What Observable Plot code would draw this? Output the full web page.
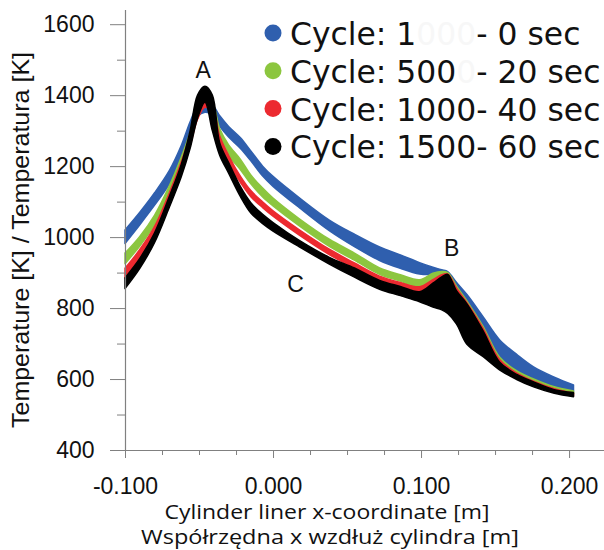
<!DOCTYPE html>
<html><head><meta charset="utf-8">
<script src="https://cdn.jsdelivr.net/npm/d3@7"></script>
<script src="https://cdn.jsdelivr.net/npm/@observablehq/plot@0.6"></script>
<style>body{margin:0;background:#fff} #chart{width:604px;height:550px}</style>
</head><body><div id="chart"></div>
<script>
// x positions along the cylinder liner [m]
const xs = [-0.100, -0.090, -0.080, -0.070, -0.062, -0.056, -0.051, -0.046, -0.041, -0.036, -0.030, -0.022, -0.015, -0.007, 0.000, 0.018, 0.038, 0.055, 0.072, 0.086, 0.099, 0.108, 0.114, 0.118, 0.124, 0.131, 0.142, 0.153, 0.165, 0.176, 0.190, 0.203];
// Temperature bands [K] (lower / upper envelope of the cycles)
const cycle1Lo = [982, 1035, 1090, 1150, 1220, 1290, 1340, 1352, 1345, 1312, 1282, 1250, 1215, 1172, 1143, 1082, 1018, 973, 934, 912, 896, 894, 892, 885, 850, 812, 735, 655, 618, 598, 575, 565];
const cycle1Hi = [1020, 1070, 1125, 1188, 1258, 1325, 1368, 1374, 1372, 1342, 1312, 1280, 1243, 1200, 1171, 1110, 1048, 1008, 972, 950, 928, 915, 908, 903, 872, 838, 775, 711, 668, 634, 605, 583];
const cycle500Lo = [925, 975, 1035, 1118, 1195, 1265, 1335, 1372, 1358, 1280, 1230, 1190, 1150, 1113, 1088, 1031, 974, 935, 895, 876, 860, 880, 890, 886, 845, 805, 733, 650, 612, 590, 570, 558];
const cycle500Hi = [955, 1002, 1062, 1145, 1225, 1295, 1362, 1390, 1378, 1305, 1260, 1219, 1175, 1138, 1110, 1051, 994, 955, 913, 894, 880, 898, 903, 900, 862, 820, 748, 662, 622, 600, 578, 566];
const cycle1000Lo = [885, 940, 1005, 1100, 1185, 1258, 1332, 1366, 1350, 1262, 1205, 1154, 1114, 1083, 1059, 1005, 951, 913, 876, 857, 843, 862, 878, 882, 840, 800, 728, 645, 607, 585, 565, 552];
const cycle1000Hi = [912, 965, 1030, 1125, 1212, 1288, 1360, 1384, 1370, 1285, 1230, 1171, 1131, 1099, 1074, 1020, 966, 927, 890, 872, 860, 880, 894, 896, 856, 815, 742, 655, 616, 594, 573, 560];
const cycle1500Lo = [855, 912, 985, 1085, 1170, 1250, 1335, 1380, 1300, 1230, 1180, 1114, 1068, 1038, 1017, 972, 924, 887, 853, 835, 818, 803, 795, 785, 755, 698, 663, 626, 598, 578, 560, 550];
const cycle1500Hi = [885, 940, 1012, 1115, 1205, 1300, 1400, 1425, 1400, 1265, 1210, 1142, 1097, 1064, 1041, 990, 943, 913, 878, 861, 846, 870, 888, 895, 848, 812, 735, 648, 612, 592, 570, 562];

const seriesKeys = ["c1", "c500", "c1000", "c1500"];
const seriesColors = ["#2f5fae", "#8cc63f", "#ec2a30", "#000000"];
const legendMain = ["Cycle: 1", "Cycle: 500", "Cycle: 1000", "Cycle: 1500"];
const legendGhost = ["000", "0", "", ""];
const legendTail = ["- 0 sec", "- 20 sec", "- 40 sec", "- 60 sec"];

const yTicks = [400, 600, 800, 1000, 1200, 1400, 1600];
const yMinor = [500, 700, 900, 1100, 1300, 1500];
const xTicks = [-0.1, 0.0, 0.1, 0.2];
const xMinor = [-0.075, -0.05, -0.025, 0.025, 0.05, 0.075, 0.125, 0.15, 0.175];

const pointLabels = ["A", "B", "C"];
const pointLabelX = [-0.0475, 0.1203, 0.0149];
const pointLabelY = [1470, 969, 868];

const bands = [[cycle1Lo, cycle1Hi], [cycle500Lo, cycle500Hi], [cycle1000Lo, cycle1000Hi], [cycle1500Lo, cycle1500Hi]];
const rows = [];
bands.forEach(([lo, hi], s) => xs.forEach((x, i) => rows.push({series: seriesKeys[s], x, lo: lo[i], hi: hi[i]})));
const labelRows = pointLabels.map((t, i) => ({t, x: pointLabelX[i], y: pointLabelY[i]}));

const axisColor = "#808080";
const tickFont = "Liberation Sans, Arial, sans-serif";
const fmtX = d => d3.format(".3f")(d).replace("\u2212", "-");

const marks = [];
seriesKeys.forEach((k, s) => {
  marks.push(Plot.areaY(rows.filter(d => d.series === k), {
    x: "x", y1: "lo", y2: "hi", fill: seriesColors[s], stroke: seriesColors[s], strokeWidth: 1.5, curve: "catmull-rom"
  }));
});
marks.push(
  Plot.ruleX([-0.1], {y1: 400, y2: 1640, stroke: axisColor, strokeWidth: 1.2}),
  Plot.ruleY([400], {x1: -0.1, x2: 0.2236, stroke: axisColor, strokeWidth: 1.2}),
  Plot.axisY({ticks: yTicks, tickSize: 15, tickPadding: 16, stroke: axisColor, fill: "#111", fontSize: 23, label: null, tickFormat: d => String(d)}),
  Plot.axisY({ticks: yMinor, tickSize: 8, stroke: axisColor, text: null, label: null}),
  Plot.axisX({ticks: xTicks, tickSize: 8, tickPadding: 19, stroke: axisColor, fill: "#111", fontSize: 23, label: null, tickFormat: fmtX}),
  Plot.axisX({ticks: xMinor, tickSize: 5, stroke: axisColor, text: null, label: null}),
  Plot.text(labelRows, {x: "x", y: "y", text: "t", fontSize: 23, fill: "#111", textAnchor: "middle", lineAnchor: "middle", fontFamily: tickFont})
);

const svg = Plot.plot({
  width: 604, height: 550,
  marginLeft: 125, marginRight: 0, marginTop: 10, marginBottom: 100,
  x: {domain: [-0.1, 0.2236]},
  y: {domain: [400, 1640]},
  style: {fontFamily: tickFont, background: "#fff", overflow: "visible"},
  marks
});
document.getElementById("chart").appendChild(svg);

const sel = d3.select(svg);
// axis titles
sel.append("text").attr("transform", "translate(29,240) rotate(-90)").attr("text-anchor", "middle")
  .attr("font-family", tickFont).attr("font-size", 24).attr("fill", "#111")
  .attr("textLength", 376).attr("lengthAdjust", "spacingAndGlyphs").text("Temperature [K] / Temperatura [K]");
const tFont = "Open Sans, Noto Sans, sans-serif";
sel.append("text").attr("x", 327).attr("y", 519).attr("text-anchor", "middle")
  .attr("font-family", tFont).attr("font-size", 20).attr("fill", "#111")
  .attr("textLength", 325).attr("lengthAdjust", "spacingAndGlyphs").text("Cylinder liner x-coordinate [m]");
sel.append("text").attr("x", 330).attr("y", 544).attr("text-anchor", "middle")
  .attr("font-family", tFont).attr("font-size", 20).attr("fill", "#111")
  .attr("textLength", 378).attr("lengthAdjust", "spacingAndGlyphs").text("Współrzędna x wzdłuż cylindra [m]");
// legend
const lg = sel.append("g").attr("font-family", "DejaVu Sans, Verdana, sans-serif").attr("font-size", 31.4)
  .attr("fill", "#111").attr("text-anchor", "start");
seriesKeys.forEach((k, i) => {
  const cy = 33 + i * 37.8;
  lg.append("circle").attr("cx", 273).attr("cy", cy).attr("r", 8.5).attr("fill", seriesColors[i]);
  const t = lg.append("text").attr("x", 290).attr("y", cy + 12).attr("xml:space", "preserve");
  t.append("tspan").text(legendMain[i]);
  if (legendGhost[i]) t.append("tspan").attr("fill", "#f7f7f7").text(legendGhost[i]);
  t.append("tspan").text(legendTail[i]);
});
</script></body></html>
